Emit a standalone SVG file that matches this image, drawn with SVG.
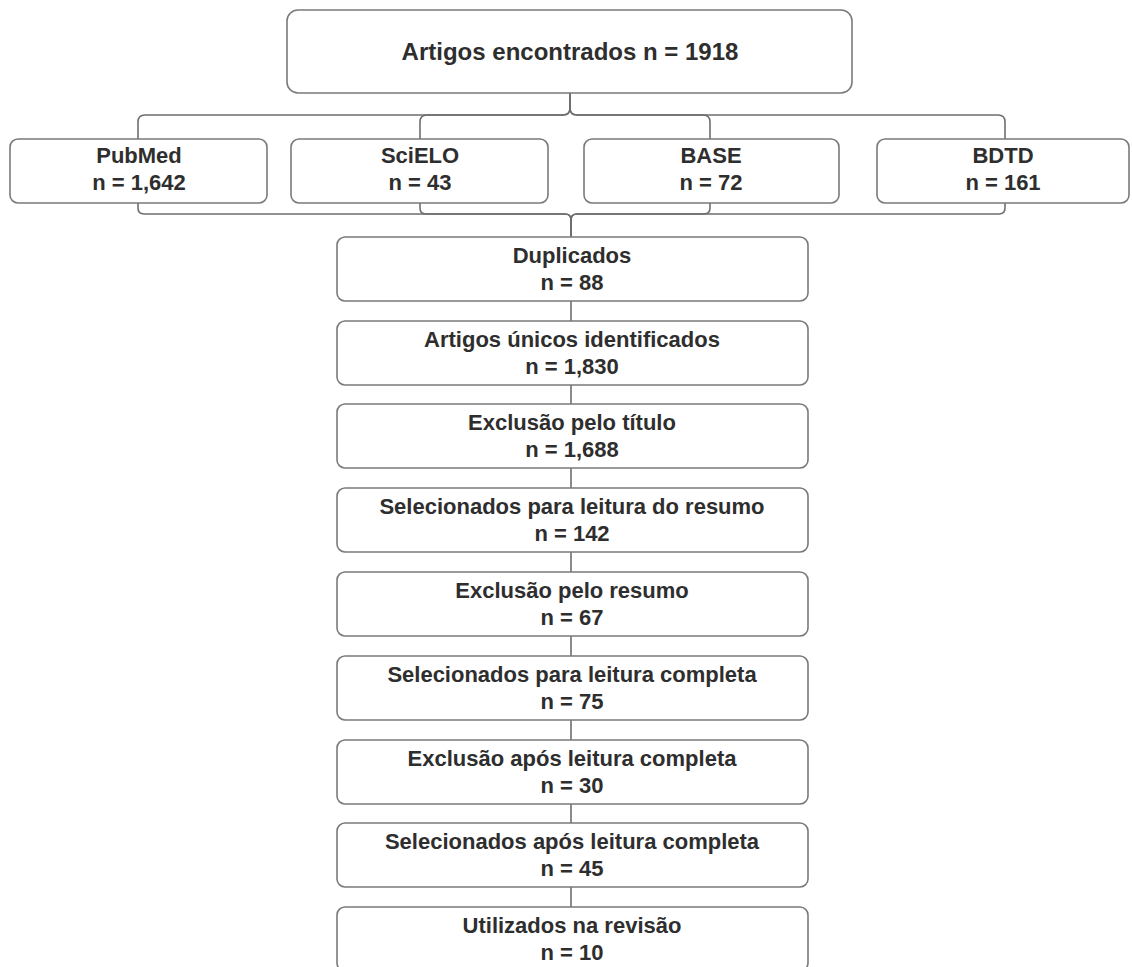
<svg xmlns="http://www.w3.org/2000/svg" width="1132" height="967" viewBox="0 0 1132 967">
<style>
.box{fill:#ffffff;stroke:#7a7a7a;stroke-width:1.6}
.edge{fill:none;stroke:#6e6e6e;stroke-width:1.6}
text{font-family:"Liberation Sans",Arial,sans-serif;font-weight:bold;fill:#2e2e2e;text-anchor:middle}
.t{font-size:22px}
.tt{font-size:24px}
</style>
<rect width="1132" height="967" fill="#ffffff"/>
<g id="connectors">
<path class="edge" d="M570,93 V108 Q570,115 563,115 H145 Q138,115 138,122 V139"/>
<path class="edge" d="M570,93 V108 Q570,115 563,115 H427 Q420,115 420,122 V139"/>
<path class="edge" d="M570,93 V108 Q570,115 577,115 H703 Q710,115 710,122 V139"/>
<path class="edge" d="M570,93 V108 Q570,115 577,115 H998 Q1005,115 1005,122 V139"/>
<path class="edge" d="M138,203 V208 Q138,214 144,214 H565 Q571,214 571,220 V237"/>
<path class="edge" d="M420,203 V208 Q420,214 426,214 H565 Q571,214 571,220 V237"/>
<path class="edge" d="M710,203 V208 Q710,214 704,214 H577 Q571,214 571,220 V237"/>
<path class="edge" d="M1005,203 V208 Q1005,214 999,214 H577 Q571,214 571,220 V237"/>
<path class="edge" d="M571,301 V321 M571,385 V404 M571,468 V488 M571,552 V572 M571,636 V656 M571,720 V740 M571,804 V823 M571,887 V907"/>
</g>
<g id="n-total"><rect class="box" x="287" y="10" width="565" height="83" rx="11"/><text class="tt" x="570" y="60">Artigos encontrados n = 1918</text></g>
<g id="n-pubmed"><rect class="box" x="10" y="139" width="257" height="64" rx="8"/><text class="t" x="139" y="163">PubMed</text><text class="t" x="139" y="190">n = 1,642</text></g>
<g id="n-scielo"><rect class="box" x="291" y="139" width="257" height="64" rx="8"/><text class="t" x="420" y="163">SciELO</text><text class="t" x="420" y="190">n = 43</text></g>
<g id="n-base"><rect class="box" x="584" y="139" width="255" height="64" rx="8"/><text class="t" x="711" y="163">BASE</text><text class="t" x="711" y="190">n = 72</text></g>
<g id="n-bdtd"><rect class="box" x="877" y="139" width="252" height="64" rx="8"/><text class="t" x="1003" y="163">BDTD</text><text class="t" x="1003" y="190">n = 161</text></g>
<g id="n-dup"><rect class="box" x="337" y="237" width="471" height="64" rx="8"/><text class="t" x="572" y="263">Duplicados</text><text class="t" x="572" y="290">n = 88</text></g>
<g id="n-unicos"><rect class="box" x="337" y="321" width="471" height="64" rx="8"/><text class="t" x="572" y="347">Artigos únicos identificados</text><text class="t" x="572" y="374">n = 1,830</text></g>
<g id="n-titulo"><rect class="box" x="337" y="404" width="471" height="64" rx="8"/><text class="t" x="572" y="430">Exclusão pelo título</text><text class="t" x="572" y="457">n = 1,688</text></g>
<g id="n-sel-resumo"><rect class="box" x="337" y="488" width="471" height="64" rx="8"/><text class="t" x="572" y="514">Selecionados para leitura do resumo</text><text class="t" x="572" y="541">n = 142</text></g>
<g id="n-exc-resumo"><rect class="box" x="337" y="572" width="471" height="64" rx="8"/><text class="t" x="572" y="598">Exclusão pelo resumo</text><text class="t" x="572" y="625">n = 67</text></g>
<g id="n-sel-completa"><rect class="box" x="337" y="656" width="471" height="64" rx="8"/><text class="t" x="572" y="682">Selecionados para leitura completa</text><text class="t" x="572" y="709">n = 75</text></g>
<g id="n-exc-completa"><rect class="box" x="337" y="740" width="471" height="64" rx="8"/><text class="t" x="572" y="766">Exclusão após leitura completa</text><text class="t" x="572" y="793">n = 30</text></g>
<g id="n-sel-apos"><rect class="box" x="337" y="823" width="471" height="64" rx="8"/><text class="t" x="572" y="849">Selecionados após leitura completa</text><text class="t" x="572" y="876">n = 45</text></g>
<g id="n-utilizados"><rect class="box" x="337" y="907" width="471" height="64" rx="8"/><text class="t" x="572" y="933">Utilizados na revisão</text><text class="t" x="572" y="960">n = 10</text></g>
</svg>
